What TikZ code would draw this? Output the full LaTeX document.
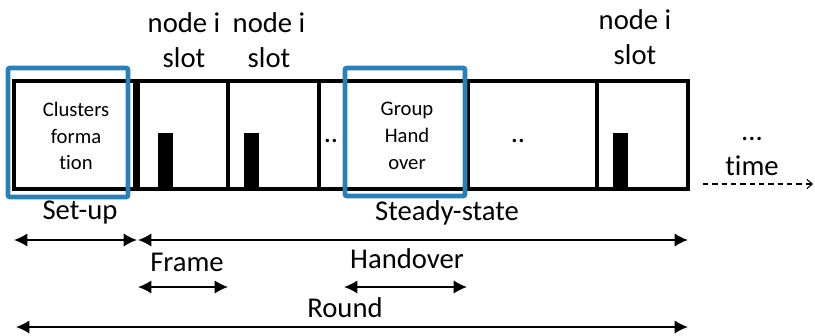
\documentclass[tikz,border=0pt]{standalone}
\usepackage{fontspec}
\setmainfont[Ligatures=NoCommon]{Carlito}
\usepackage{tikz}
\usetikzlibrary{arrows.meta}

\definecolor{hiblue}{RGB}{41,128,185}

\tikzset{
  cell/.style={draw=black, line width=2.3pt},
  hilite/.style={draw=hiblue, line width=3.6pt, rounded corners=1.5pt},
  lbl/.style={inner sep=0.75pt, align=center, font=\fontsize{21.5}{26}\selectfont},
  small/.style={inner sep=0.75pt, align=center, font=\fontsize{15.5}{20}\selectfont},
  span/.style={{Latex[length=10pt,width=10pt]}-{Latex[length=10pt,width=10pt]}, line width=1.3pt},
}

\begin{document}
\begin{tikzpicture}[x=0.75pt,y=0.75pt,yscale=-1,xscale=1]
\useasboundingbox (0,0) rectangle (815,336);

%Shape: cells of the round
\foreach \a/\b in {14/135,138/228,228/319,319/345,345/468,468/597,597/688}
  \draw[cell] (\a,81) rectangle (\b,189);

%Shape: slot bars
\foreach \a in {158,244,613}
  \fill (\a,133) rectangle (\a+15,189);

%Shape: highlighted phases
\draw[hilite] (8,68) rectangle (128,197);
\draw[hilite] (345,68) rectangle (465,196);

% Text Node
\node[small] (clusters) at (76,136) {Clusters\\forma\\tion};
\node[small] (group) at (407,136) {Group\\Hand\\over};
\node[lbl] (slotA) at (184,40) {node i\\slot};
\node[lbl] (slotB) at (269,40) {node i\\slot};
\node[lbl] (slotC) at (635,37) {node i\\slot};
\node[lbl] (dotsA) at (331,141) {..};
\node[lbl] (dotsB) at (518,141) {..};
\node[lbl] (more) at (752,139) {...};
\node[lbl] (time) at (752,166) {time};

% span end points
\coordinate (su-l) at (14,240);
\coordinate (su-r) at (137,240);
\coordinate (ss-l) at (138,240);
\coordinate (ss-r) at (688,240);
\coordinate (fr-l) at (138,287);
\coordinate (fr-r) at (228,287);
\coordinate (ho-l) at (344,287);
\coordinate (ho-r) at (467,287);
\coordinate (rd-l) at (16,327);
\coordinate (rd-r) at (688,327);
\coordinate (t-l) at (703,184);
\coordinate (t-r) at (813,184);

%Straight Lines
\draw[span] (su-l) -- (su-r);
\draw[span] (ss-l) -- (ss-r);
\draw[span] (fr-l) -- (fr-r);
\draw[span] (ho-l) -- (ho-r);
\draw[span] (rd-l) -- (rd-r);
\draw[dash pattern=on 4pt off 3pt, line width=0.8pt, -{Straight Barb[length=4pt,width=7pt]}] (t-l) -- (t-r);

% Text Node
\node[lbl] (setup) at (80,213) {Set-up};
\node[lbl] (steady) at (447,213) {Steady-state};
\node[lbl] (frame) at (187,262) {Frame};
\node[lbl] (handover) at (407,259) {Handover};
\node[lbl] (round) at (345,308) {Round};

\end{tikzpicture}
\end{document}
